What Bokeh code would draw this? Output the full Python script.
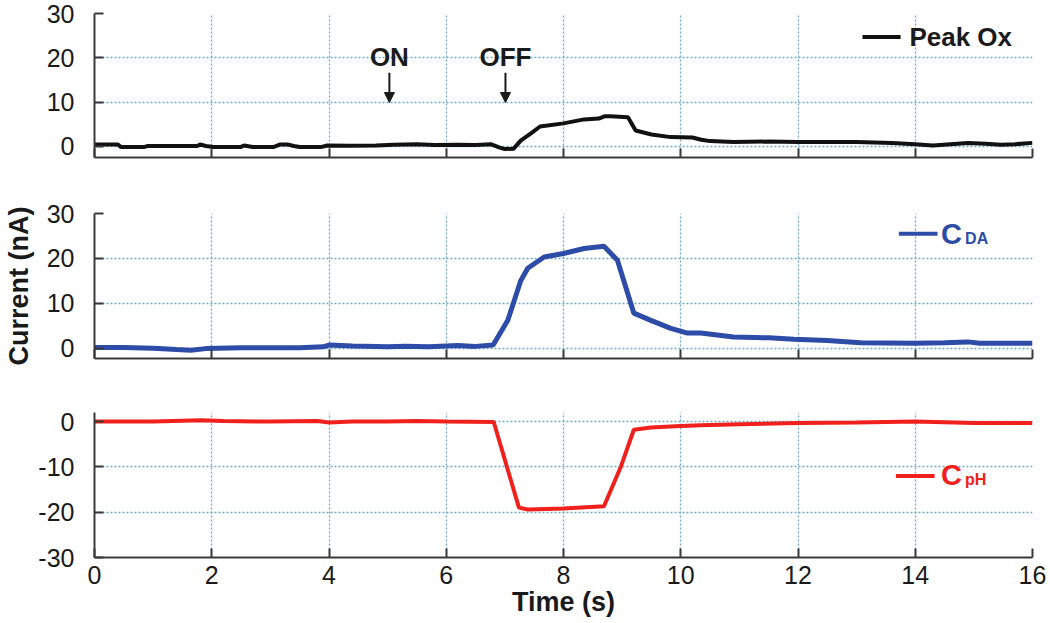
from bokeh.plotting import figure
from bokeh.layouts import column
from bokeh.models import Range1d, FixedTicker, Label, Arrow, NormalHead
from bokeh.embed import file_html
from bokeh.resources import INLINE

# ---- data ----
time_ox = [0.0, 0.4, 0.45, 0.84, 0.9, 1.75, 1.8, 1.9, 2.03, 2.49, 2.55, 2.7, 3.05, 3.17, 3.29, 3.4, 3.5,
           3.86, 3.97, 4.37, 4.8, 5.1, 5.5, 5.8, 6.2, 6.5, 6.76, 6.9, 7.0, 7.15, 7.27, 7.45, 7.6, 8.0,
           8.35, 8.6, 8.7, 8.8, 9.1, 9.23, 9.5, 9.83, 10.2, 10.35, 10.5, 10.9, 11.5, 12.0, 13.0, 13.6,
           14.0, 14.3, 14.6, 14.9, 15.2, 15.46, 15.7, 16.0]
peak_ox = [0.45, 0.45, -0.15, -0.15, 0.07, 0.07, 0.45, 0.1, -0.15, -0.15, 0.22, -0.15, -0.15, 0.45, 0.45,
           0.1, -0.15, -0.15, 0.22, 0.15, 0.2, 0.4, 0.5, 0.3, 0.4, 0.3, 0.5, -0.2, -0.6, -0.5, 1.3, 3.0,
           4.5, 5.2, 6.1, 6.3, 6.8, 6.8, 6.6, 3.6, 2.7, 2.1, 2.0, 1.5, 1.2, 1.0, 1.1, 1.0, 1.0, 0.75,
           0.5, 0.2, 0.5, 0.75, 0.6, 0.4, 0.5, 0.8]

time_da = [0.0, 0.5, 1.0, 1.4, 1.64, 1.9, 2.5, 3.0, 3.5, 3.9, 4.0, 4.4, 5.0, 5.3, 5.7, 6.2, 6.5, 6.8,
           7.05, 7.27, 7.39, 7.67, 8.0, 8.35, 8.69, 8.92, 9.2, 9.49, 9.83, 10.1, 10.34, 10.9, 11.5,
           11.93, 12.5, 13.07, 14.0, 14.5, 14.9, 15.1, 16.0]
c_da = [0.15, 0.15, 0.0, -0.3, -0.45, -0.1, 0.1, 0.1, 0.1, 0.3, 0.7, 0.5, 0.3, 0.45, 0.3, 0.6, 0.4, 0.7,
        6.2, 15.0, 17.8, 20.3, 21.1, 22.2, 22.7, 19.6, 7.8, 6.2, 4.4, 3.4, 3.4, 2.5, 2.3,
        2.0, 1.7, 1.2, 1.1, 1.2, 1.4, 1.1, 1.1]

time_ph = [0.0, 1.0, 1.5, 1.8, 2.2, 3.0, 3.8, 4.0, 4.4, 5.0, 5.5, 6.0, 6.81, 7.24, 7.39, 8.0, 8.69,
           8.98, 9.2, 9.49, 10.0, 10.34, 11.0, 12.0, 13.0, 14.0, 15.0, 16.0]
c_ph = [0.0, 0.0, 0.2, 0.3, 0.1, 0.0, 0.1, -0.2, 0.0, 0.0, 0.1, 0.0, -0.1, -19.0, -19.4, -19.2, -18.7,
        -9.9, -1.8, -1.3, -1.0, -0.8, -0.6, -0.3, -0.2, 0.0, -0.3, -0.3]

x_ticks = [0, 2, 4, 6, 8, 10, 12, 14, 16]
y_ticks_pos = [0, 10, 20, 30]
y_ticks_neg = [-30, -20, -10, 0]

# ---- style ----
FONT = "Liberation Sans"
TXT = "#1a1a1a"
AX = "#3a3a3a"
GRID = "#6fa8c8"
BLACK = "#111111"
BLUE = "#2d4ca8"
RED = "#f0201c"

W = 1046
LEFT = 94
RIGHT = 14
x_range = Range1d(0, 16)


def make_fig(height, y_range, yticks, top, bottom, show_x_labels=False, ylabel=None):
    p = figure(width=W, height=height, x_range=x_range, y_range=y_range,
               output_backend="svg", toolbar_location=None,
               min_border_left=LEFT, min_border_right=RIGHT,
               min_border_top=top, min_border_bottom=bottom)
    p.outline_line_color = None
    p.background_fill_color = "white"
    p.border_fill_color = "white"
    p.xaxis.ticker = FixedTicker(ticks=x_ticks)
    p.yaxis.ticker = FixedTicker(ticks=yticks)
    p.yaxis.major_label_overrides = {t: str(t) for t in yticks}
    for ax in (p.xaxis[0], p.yaxis[0]):
        ax.axis_line_color = AX
        ax.axis_line_width = 2
        ax.major_tick_line_color = AX
        ax.major_tick_line_width = 2
        ax.major_tick_in = 9
        ax.major_tick_out = 0
        ax.minor_tick_line_color = None
        ax.major_label_text_font = FONT
        ax.major_label_text_font_size = "25px"
        ax.major_label_text_color = TXT
    p.yaxis.major_label_standoff = 20
    if show_x_labels:
        p.xaxis.major_label_standoff = 8
        p.xaxis.axis_label = "Time (s)"
        p.xaxis.axis_label_text_font = FONT
        p.xaxis.axis_label_text_font_size = "27px"
        p.xaxis.axis_label_text_font_style = "bold"
        p.xaxis.axis_label_text_color = TXT
        p.xaxis.axis_label_standoff = 0
    else:
        p.xaxis.major_label_overrides = {t: "" for t in x_ticks}
        p.xaxis.major_label_standoff = 0
    if ylabel:
        p.yaxis.axis_label = ylabel
        p.yaxis.axis_label_text_font = FONT
        p.yaxis.axis_label_text_font_size = "27px"
        p.yaxis.axis_label_text_font_style = "bold"
        p.yaxis.axis_label_text_color = TXT
        p.yaxis.axis_label_standoff = 10
    for g in (p.xgrid[0], p.ygrid[0]):
        g.grid_line_color = GRID
        g.grid_line_dash = "2 2"
        g.grid_line_width = 1.3
    p.xgrid.ticker = FixedTicker(ticks=x_ticks)
    p.ygrid.ticker = FixedTicker(ticks=yticks)
    return p


def legend_entry(p, color, x0, x1, yline, xtext, ytext, main, sub=None, xsub=None, ysub=None):
    p.add_layout(Arrow(end=None, x_start=x0, x_end=x1, y_start=yline, y_end=yline,
                       line_color=color, line_width=4))
    p.add_layout(Label(x=xtext, y=ytext, text=main, text_font=FONT,
                       text_font_size="29px" if sub else "26px", text_font_style="bold",
                       text_color=color if sub else TXT, text_align="left",
                       text_baseline="middle"))
    if sub:
        p.add_layout(Label(x=xsub, y=ysub, text=sub, text_font=FONT, text_font_size="16px",
                           text_font_style="bold", text_color=color, text_align="left",
                           text_baseline="middle"))


# ---- top panel: Peak Ox ----
p1 = make_fig(190, Range1d(-2.5, 30), y_ticks_pos, top=13, bottom=33)
p1.line(time_ox, peak_ox, line_color=BLACK, line_width=4)
legend_entry(p1, BLACK, 13.1, 13.75, 24.7, 13.9, 24.7, "Peak Ox")
for xx, lab in ((5.03, "ON"), (7.01, "OFF")):
    p1.add_layout(Label(x=xx, y=20.1, text=lab, text_font=FONT, text_font_size="26px",
                        text_font_style="bold", text_color=TXT, text_align="center",
                        text_baseline="middle"))
    p1.add_layout(Arrow(end=NormalHead(size=10, fill_color=TXT, line_color=TXT, line_width=1),
                        x_start=xx, x_end=xx, y_start=16.6, y_end=9.9,
                        line_color=TXT, line_width=2))

# ---- middle panel: C_DA ----
p2 = make_fig(200, Range1d(-2.3, 30), y_ticks_pos, top=23, bottom=32, ylabel="Current (nA)")
p2.line(time_da, c_da, line_color=BLUE, line_width=5)
legend_entry(p2, BLUE, 13.72, 14.38, 25.5, 14.44, 25.4, "C", "DA", 14.85, 24.4)

# ---- bottom panel: C_pH ----
p3 = make_fig(233, Range1d(-30, 2), y_ticks_neg, top=22, bottom=66, show_x_labels=True)
p3.line(time_ph, c_ph, line_color=RED, line_width=4)
legend_entry(p3, RED, 13.67, 14.33, -12.0, 14.44, -11.9, "C", "pH", 14.85, -12.8)

layout = column(p1, p2, p3)
open("out.html", "w").write(file_html(layout, INLINE))
